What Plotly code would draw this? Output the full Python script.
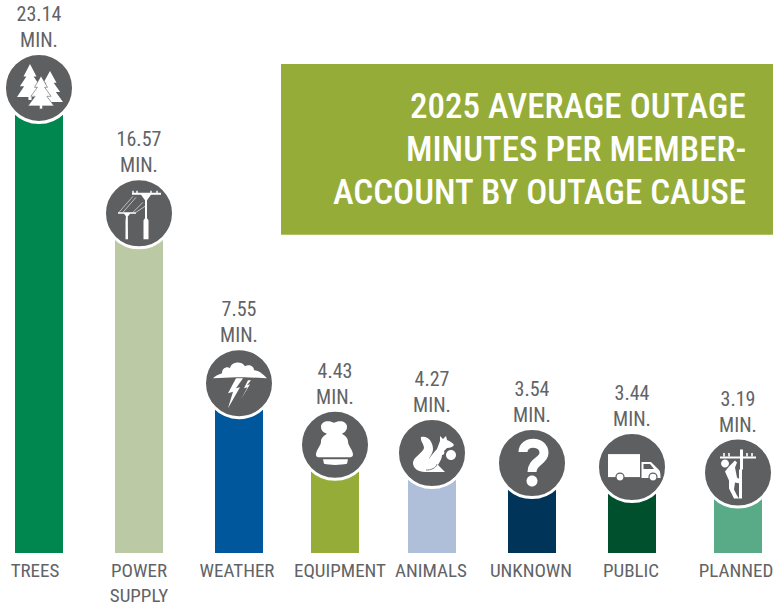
import re
import plotly.graph_objects as go

# ---- data ----
categories = ["TREES", "POWER<br>SUPPLY", "WEATHER", "EQUIPMENT", "ANIMALS", "UNKNOWN", "PUBLIC", "PLANNED"]
minutes = [23.14, 16.57, 7.55, 4.43, 4.27, 3.54, 3.44, 3.19]
bar_colors = ["#00864F", "#BBCAA5", "#00579B", "#95AC38", "#B0BFD9", "#003459", "#00502E", "#58AB86"]
title_lines = ["2025 AVERAGE OUTAGE", "MINUTES PER MEMBER-", "ACCOUNT BY OUTAGE CAUSE"]

# ---- layout constants ----
W, H = 773, 607
ZERO_PX = 553.5
PX_PER_MIN = 19.3
bar_slots = [39, 139, 239, 335, 432, 532, 632, 738]
label_slots = [35, 139, 237, 340, 431, 531, 631, 736]
badge_lift_px = [18.9, 20.2, 24.3, 22.8, 17.6, 21.7, 19.6, 18.9]
LABEL_GAP_PX = 59
title_line_px = [107, 150, 193]
GREY = "#5E5F61"
TEXT = "#626366"
OLIVE = "#95AC38"
FONT = "Roboto Condensed, Liberation Sans, sans-serif"

badge_y = [v + l / PX_PER_MIN for v, l in zip(minutes, badge_lift_px)]
label_y = [b + LABEL_GAP_PX / PX_PER_MIN for b in badge_y]
value_text = [f"{v:.2f}<br>MIN." for v in minutes]

fig = go.Figure()
fig.add_bar(x=bar_slots, y=minutes, width=48, marker=dict(color=bar_colors, line_width=0),
            showlegend=False, hoverinfo="skip")
fig.add_scatter(x=bar_slots, y=badge_y, mode="markers",
                marker=dict(size=69, color=GREY, line=dict(color="white", width=3), opacity=1),
                showlegend=False, hoverinfo="skip", cliponaxis=False)
fig.add_scatter(x=bar_slots, y=label_y, mode="text", text=value_text,
                textposition="middle center", textfont=dict(family=FONT, size=20, color=TEXT),
                showlegend=False, hoverinfo="skip", cliponaxis=False)


def flip(path):
    out, is_y = [], False
    for t in path.split():
        if re.fullmatch(r"[A-Za-z]", t):
            out.append(t)
            is_y = False
        else:
            out.append(str(-float(t)) if is_y else t)
            is_y = not is_y
    return " ".join(out)


def circle(cx, cy, r):
    k = 0.5523 * r
    return (f"M {cx-r} {cy} C {cx-r} {cy-k} {cx-k} {cy-r} {cx} {cy-r} "
            f"C {cx+k} {cy-r} {cx+r} {cy-k} {cx+r} {cy} "
            f"C {cx+r} {cy+k} {cx+k} {cy+r} {cx} {cy+r} "
            f"C {cx-k} {cy+r} {cx-r} {cy+k} {cx-r} {cy} Z")


def pine(cx, top, half, h):
    a, b, c = top, top + h * 0.38, top + h * 0.68
    d = top + h
    return (f"M {cx} {a} L {cx+half*.5} {b} L {cx+half*.28} {b} L {cx+half*.78} {c} L {cx+half*.45} {c} "
            f"L {cx+half} {d} L {cx+half*.12} {d} L {cx+half*.12} {d+3} L {cx-half*.12} {d+3} L {cx-half*.12} {d} "
            f"L {cx-half} {d} L {cx-half*.45} {c} L {cx-half*.78} {c} L {cx-half*.28} {b} L {cx-half*.5} {b} Z")


# Icon drawings: (path in px around the badge centre (y down), fill, line colour, line width)
W_ = "white"
icons = [
    [(pine(-9, -24, 13, 33), W_, None, 0), (pine(11, -17, 13, 31), W_, None, 0),
     (pine(2, -12, 13, 30), W_, GREY, 0.6)],
    [("M 6 -20 L 8 -20 L 8 5 L 9.5 7 L 9.5 26 L 4.5 26 L 4.5 7 L 6 5 Z", W_, None, 0),
     ("M -7 -20.5 L 22 -20.5 L 22 -18.5 L 12 -18.5 L 8 -13 L 6 -13 L 2 -18.5 L -7 -18.5 Z", W_, None, 0),
     ("M -12.8 0 L -11.2 0 L -11 26 L -13.5 26 L -13.5 8 Z", W_, None, 0),
     ("M -21 -1 L -3 -1 L -3 0.5 L -9 0.5 L -11 3 L -13 3 L -15 0.5 L -21 0.5 Z", W_, None, 0),
     ("M -20 -1 L -6 -17", None, W_, 0.6), ("M -16 -1 L -3 -16", None, W_, 0.6),
     ("M -6 -1 L 4 -11", None, W_, 0.6), ("M -3 -1 L 6 -7", None, W_, 0.6),
     ("M -6 -22.5 L -6 -20 M -2 -22.5 L -2 -20 M 12 -22.5 L 12 -20 M 18 -22.5 L 18 -20", None, W_, 1.4)],
    [("M -26 -5 C -22 -9 -19 -9 -17 -10 C -17 -15 -12 -17 -9 -15 C -8 -21 2 -23 6 -17 "
      "C 10 -19 15 -17 15 -13 C 20 -13 24 -9 28 -5 L 5 -6 L -3 -6 Z", W_, None, 0),
     ("M -3 -5 L -11 10 L -6 8.5 L -11 25 L 1 4 L -3 5 L 4 -5 Z", W_, None, 0),
     ("M 9 -3 L 5 5 L 8.5 4 L 2 16 L 11 1 L 8 2 L 12 -3 Z", W_, None, 0)],
    [("M -8 -11 C -11 -12 -14 -14 -14 -18 C -14 -24 -6 -25 -1 -22 C 4 -25 12 -24 12 -18 "
      "C 12 -14 9 -12 7 -11 C 10 -9 13 -7 13 -3 C 13 1 18 5 18 10 C 18 12 16 12.5 14 12.5 "
      "L -15 12.5 C -18 12.5 -19 12 -19 10 C -19 5 -14 1 -14 -3 C -14 -7 -11 -9 -8 -11 Z", W_, None, 0),
     ("M -12 14.5 L 13 14.5 L 12 19 C 5 20.5 -5 20.5 -11 19 Z", W_, None, 0)],
    [("M -11 -16 C -5 -18 1 -12 1 -4 C 1 0 -2 3 -3 6 C -1 3 2 -1 5 -4 L 8 -12 L 8 -17 L 11 -14 L 14 -17 "
      "L 15 -13 C 18 -12 21 -10 22 -8 C 21 -6 18 -5 15 -5 L 12 -2 C 13 0 12 2 10 2 C 10 6 7 10 6 12 "
      "L 10 16 L 13 19 L -7 19 C -14 19 -19 15 -19 10 C -19 4 -9 0 -8 -5 C -8 -9 -12 -12 -11 -16 Z",
      W_, None, 0),
     ("M -6 17 C -1 17 4 15 5 11", None, GREY, 0.8),
     (circle(19, 2, 5), W_, None, 0)],
    [("M -9 -11 C -9 -23 12 -23 12 -10 C 12 -2 0 -2 0 9", None, W_, 9),
     (circle(0, 18, 5.5), W_, None, 0)],
    [("M -24 -13 L 8 -13 L 8 10 L -24 10 Z", W_, None, 0),
     ("M 9.5 -5 L 19 -5 L 27 3 C 28 4 28.5 6 28.5 11 L 9.5 11 Z", W_, None, 0),
     ("M 11.5 -3 L 18 -3 L 22 2 L 11.5 2 Z", GREY, None, 0),
     (circle(-12, 10, 4), W_, GREY, 1.2), (circle(21, 10, 4), W_, GREY, 1.2)],
    [("M -18 -16 L 18 -16 L 18 -14 L -18 -14 Z", W_, None, 0),
     ("M 2 -23 L 5 -23 L 5 -3 L 4 -3 L 4 26 L 1 26 L 1 -3 L 2 -3 Z", W_, None, 0),
     ("M -14 -19.5 L -14 -16 M -9 -19.5 L -9 -16 M 9 -19.5 L 9 -16 M 14 -19.5 L 14 -16", None, W_, 1.6),
     (circle(-13, -9, 4), W_, None, 0),
     ("M -9 -6 L -3 -12 L -1 -10 L -3 -5 L -1 5 L 2 7 L 2 11 L -3 10 L -4 17 L -1 23 L 1 26 L -4 26 "
      "L -9 16 L -9 8 L -13 -1 Z", W_, None, 0)],
]

shapes = [dict(type="rect", xref="paper", yref="paper", x0=281 / W, x1=1,
               y0=(ZERO_PX - 235) / ZERO_PX, y1=(ZERO_PX - 64) / ZERO_PX,
               fillcolor=OLIVE, line_width=0, layer="below")]
for xpos, ypos, drawing in zip(bar_slots, badge_y, icons):
    for path, fill, line_color, line_width in drawing:
        s = dict(type="path", xref="x", yref="y", xsizemode="pixel", ysizemode="pixel",
                 xanchor=xpos, yanchor=ypos, path=flip(path),
                 line=dict(width=line_width, color=line_color or "rgba(0,0,0,0)"))
        s["fillcolor"] = fill if fill else "rgba(0,0,0,0)"
        shapes.append(s)

annotations = [dict(text=line, xref="paper", yref="paper", x=747.5 / W, xanchor="right",
                    y=(ZERO_PX - py) / ZERO_PX, yanchor="middle", showarrow=False,
                    font=dict(family=FONT, size=35, color="white", weight=500))
               for line, py in zip(title_lines, title_line_px)]

fig.update_layout(
    width=W, height=H, paper_bgcolor="white", plot_bgcolor="white",
    margin=dict(l=0, r=0, t=0, b=H - ZERO_PX), autosize=False, bargap=0,
    xaxis=dict(range=[0, W], tickmode="array", tickvals=label_slots, ticktext=categories,
               showgrid=False, zeroline=False, showline=False, ticks="", ticklabelstandoff=4,
               ticklabeloverflow="allow", tickangle=0,
               tickfont=dict(family=FONT, size=19, color=TEXT), automargin=False),
    yaxis=dict(range=[0, ZERO_PX / PX_PER_MIN], visible=False, automargin=False),
    shapes=shapes, annotations=annotations,
)
fig.write_html("out.html", config=dict(displayModeBar=False),
               post_script="document.body.style.margin='0';document.body.style.overflow='hidden';")
